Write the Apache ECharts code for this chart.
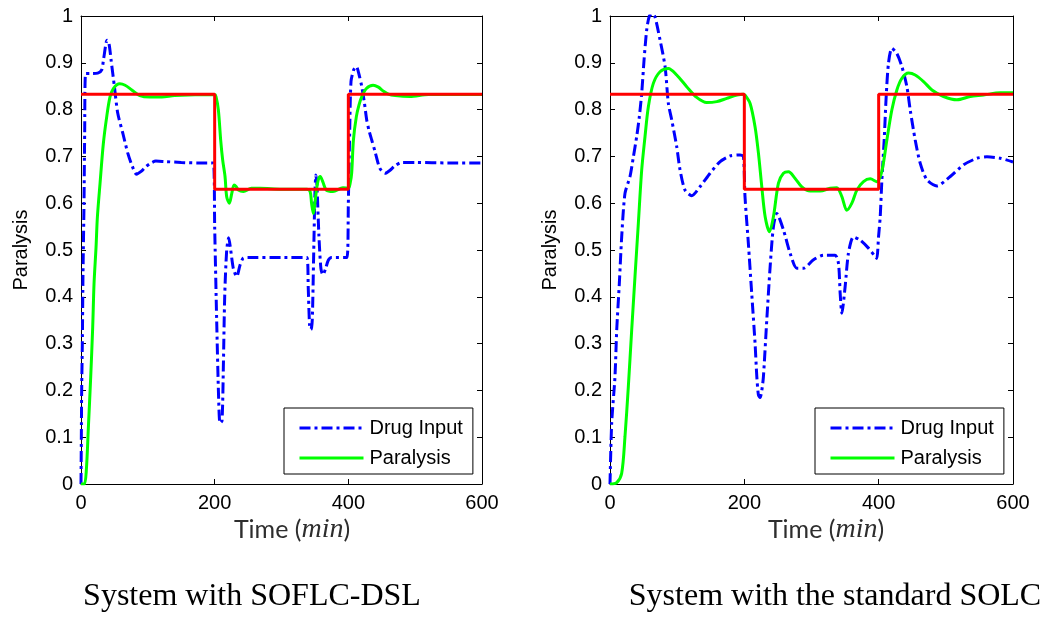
<!DOCTYPE html>
<html>
<head>
<meta charset="utf-8">
<script src="https://cdn.jsdelivr.net/npm/echarts@6/dist/echarts.min.js"></script>
<style>
html,body{margin:0;padding:0;background:#fff;}
#chart{width:1042px;height:617px;}
</style>
</head>
<body>
<div id="chart"></div>
<script>
// ---- data (time in min, value) ----
const xTicks = [0, 200, 400, 600];
const yTicks = [0, 0.1, 0.2, 0.3, 0.4, 0.5, 0.6, 0.7, 0.8, 0.9, 1];
const seriesNames = ['Drug Input', 'Paralysis'];
const captions = ['System with SOFLC-DSL', 'System with the standard SOLC'];

const setpoint = [[0, 0.833], [200, 0.63], [400, 0.833], [600, 0.833]];

const leftDrugInput = [[0,0],[0.5,0.1],[1,0.2],[2,0.3],[3,0.45],[4.5,0.6],[5.5,0.75],[7,0.877],[15,0.877],[25,0.878],[31,0.885],[34,0.91],[39,0.948],[42,0.94],[45,0.906],[50,0.849],[55,0.792],[62.5,0.75],[70,0.707],[77,0.678],[83,0.662],[90,0.668],[97,0.678],[105,0.686],[112,0.69],[125,0.689],[150,0.687],[175,0.686],[198,0.686],[200,0.55],[203,0.35],[206,0.18],[208,0.13],[211,0.135],[213,0.25],[215,0.4],[218,0.5],[221,0.526],[224,0.5],[228,0.46],[233,0.443],[238,0.468],[243,0.483],[250,0.484],[300,0.484],[338,0.484],[340,0.42],[342,0.34],[344,0.33],[346,0.35],[348,0.48],[350,0.62],[351.5,0.66],[353,0.64],[356,0.53],[359,0.46],[362,0.447],[366,0.46],[370,0.478],[375,0.484],[398,0.484],[400,0.6],[402,0.75],[404,0.86],[408,0.885],[412,0.892],[416,0.875],[420,0.85],[424,0.815],[427.5,0.778],[431,0.755],[435,0.735],[440,0.71],[447,0.675],[455,0.664],[462,0.67],[470,0.68],[480,0.687],[500,0.687],[550,0.686],[600,0.686]];

const leftParalysis = [[0,0],[5,0],[8,0.03],[11,0.12],[14.5,0.228],[17.5,0.335],[19.5,0.428],[22.5,0.506],[24.5,0.57],[28.4,0.641],[33.4,0.727],[38.4,0.784],[43.4,0.827],[48.4,0.845],[58,0.855],[66,0.852],[76,0.842],[88,0.83],[103,0.827],[121,0.827],[140,0.83],[200,0.832],[202,0.828],[205.5,0.8],[209,0.735],[212,0.692],[215.5,0.657],[218,0.614],[222,0.6],[225.6,0.621],[229,0.639],[232,0.636],[235.5,0.628],[243,0.625],[255,0.632],[268,0.632],[300,0.63],[338,0.63],[342.8,0.625],[345,0.6],[347.7,0.578],[350,0.6],[352.5,0.63],[355,0.65],[358,0.657],[362,0.645],[367,0.628],[377,0.625],[392,0.633],[400,0.632],[403,0.645],[405,0.664],[407.6,0.735],[412,0.785],[416,0.81],[420,0.827],[427,0.845],[437,0.852],[445,0.848],[452,0.84],[460,0.833],[470,0.83],[492,0.828],[520,0.832],[600,0.832]];

const rightDrugInput = [[0,0],[2.5,0.13],[7.4,0.229],[10,0.329],[13.9,0.429],[17.4,0.528],[22.3,0.621],[29.8,0.657],[34.8,0.699],[39.7,0.742],[43.7,0.785],[47.2,0.835],[50.7,0.906],[54.6,0.97],[58.6,1.0],[63,1.005],[67,0.998],[74.5,0.949],[82,0.892],[86.9,0.813],[91.9,0.778],[99.3,0.721],[104.3,0.671],[111.7,0.628],[121.7,0.616],[134,0.635],[149,0.664],[164,0.689],[178.8,0.701],[193.7,0.703],[198.6,0.7],[201,0.614],[206,0.514],[211,0.407],[216,0.3],[218.6,0.229],[221,0.19],[223.5,0.185],[226,0.2],[228.4,0.229],[233.4,0.35],[238.4,0.464],[243.3,0.55],[248.3,0.578],[258.2,0.543],[268.2,0.493],[278.1,0.461],[288,0.461],[303,0.479],[317.8,0.489],[335.2,0.489],[340.2,0.471],[342.7,0.407],[345.2,0.365],[350.1,0.422],[355,0.493],[362.5,0.528],[372.5,0.521],[384.8,0.504],[394.8,0.486],[397.3,0.482],[399.8,0.528],[402.3,0.571],[404.8,0.65],[408.2,0.735],[411.2,0.828],[414.6,0.899],[419.6,0.931],[427,0.92],[434.6,0.892],[442,0.849],[447,0.799],[454.4,0.735],[461.9,0.685],[471.8,0.65],[486.7,0.637],[506.6,0.657],[526.5,0.682],[546.3,0.696],[561.2,0.699],[581,0.696],[600,0.688]];

const rightParalysis = [[0,0],[10,0.003],[17.4,0.023],[22.3,0.101],[27.3,0.208],[32.3,0.329],[37.2,0.443],[42.2,0.557],[47.2,0.671],[52.1,0.742],[57.1,0.806],[64.5,0.856],[74.5,0.881],[86.9,0.888],[99.3,0.874],[114.2,0.849],[129.1,0.826],[144,0.815],[159,0.817],[173.8,0.824],[188.8,0.831],[198.6,0.833],[201,0.831],[208.6,0.813],[216,0.763],[221,0.707],[226,0.635],[231,0.571],[237.4,0.539],[243.3,0.571],[250.8,0.643],[258.2,0.664],[265.7,0.667],[275.6,0.653],[285.6,0.635],[298,0.626],[312.9,0.626],[327.8,0.632],[337.7,0.633],[345.2,0.614],[352.6,0.585],[360.1,0.6],[367.5,0.628],[377.4,0.646],[387.4,0.652],[397.3,0.646],[404.7,0.668],[412.2,0.735],[419.6,0.799],[427.1,0.842],[434.6,0.867],[444.5,0.878],[454.4,0.874],[466.8,0.86],[479.3,0.842],[496.6,0.828],[516.5,0.821],[536.4,0.828],[556.2,0.831],[581,0.836],[600,0.836]];

// ---- chart ----
const chart = echarts.init(document.getElementById('chart'), null, {renderer: 'canvas'});
const SANS = '"Liberation Sans", Arial, sans-serif';
const grids = [
  {left: 81, top: 16, width: 401, height: 468},
  {left: 610, top: 16, width: 403, height: 468}
];

const xAxes = [], yAxes = [], series = [];
grids.forEach((g, gi) => {
  const common = {
    gridIndex: gi, type: 'value', min: 0, max: 600, interval: 200,
    axisLine: {show: true, onZero: false, lineStyle: {color: '#000', width: 1}},
    axisTick: {show: true, inside: true, length: 5, lineStyle: {color: '#000'}},
    splitLine: {show: false}
  };
  xAxes.push(Object.assign({}, common, {
    position: 'bottom',
    axisLabel: {show: true, color: '#000', fontSize: 20, fontFamily: SANS, margin: 9}
  }));
  xAxes.push(Object.assign({}, common, {position: 'top', axisLabel: {show: false}}));
  const ycommon = {
    gridIndex: gi, type: 'value', min: 0, max: 1, interval: 0.1,
    axisLine: {show: true, onZero: false, lineStyle: {color: '#000', width: 1}},
    axisTick: {show: true, inside: true, length: 5, lineStyle: {color: '#000'}},
    splitLine: {show: false}
  };
  yAxes.push(Object.assign({}, ycommon, {
    position: 'left',
    name: 'Paralysis', nameLocation: 'middle', nameGap: 50,
    nameTextStyle: {color: '#000', fontSize: 20, fontFamily: SANS},
    axisLabel: {show: true, color: '#000', fontSize: 20, fontFamily: SANS, margin: 8,
      formatter: v => String(Math.round(v * 10) / 10)}
  }));
  yAxes.push(Object.assign({}, ycommon, {position: 'right', axisLabel: {show: false}}));
});

const drugData = [leftDrugInput, rightDrugInput];
const parData = [leftParalysis, rightParalysis];
grids.forEach((g, gi) => {
  series.push({
    name: seriesNames[0], type: 'line', xAxisIndex: gi * 2, yAxisIndex: gi * 2,
    data: drugData[gi], showSymbol: false, symbol: 'none', smooth: 0.25,
    lineStyle: {color: '#0000ff', width: 3, type: [11, 4, 3, 4]},
    itemStyle: {color: '#0000ff'}, z: 2, animation: false
  });
  series.push({
    name: seriesNames[1], type: 'line', xAxisIndex: gi * 2, yAxisIndex: gi * 2,
    data: parData[gi], showSymbol: false, symbol: 'none', smooth: 0.3,
    lineStyle: {color: '#00ff00', width: 3, type: 'solid'},
    itemStyle: {color: '#00ff00'}, z: 3, animation: false
  });
  series.push({
    name: 'Setpoint', type: 'line', xAxisIndex: gi * 2, yAxisIndex: gi * 2,
    data: setpoint, step: 'end', showSymbol: false, symbol: 'none',
    lineStyle: {color: '#ff0000', width: 3},
    itemStyle: {color: '#ff0000'}, z: 4, animation: false
  });
});

const legendCommon = {
  orient: 'vertical', data: seriesNames, top: 408,
  itemWidth: 64, itemHeight: 14, itemGap: 10,
  padding: [10, 10, 6, 14],
  borderColor: '#000', borderWidth: 1, borderRadius: 0, backgroundColor: '#fff',
  itemStyle: {opacity: 0},
  lineStyle: {width: 3},
  textStyle: {color: '#000', fontSize: 20, fontFamily: SANS, padding: [0, 0, 0, 1]},
  selectedMode: false
};

const timeRich = {
  a: {fontSize: 25, fontFamily: 'Lato', fill: '#2e2e2e'},
  b: {fontSize: 28, fontFamily: '"Liberation Serif"', fontStyle: 'italic', fill: '#2e2e2e'}
};

const option = {
  backgroundColor: '#fff',
  animation: false,
  grid: grids,
  xAxis: xAxes,
  yAxis: yAxes,
  legend: [
    Object.assign({}, legendCommon, {left: 284}),
    Object.assign({}, legendCommon, {left: 815})
  ],
  series: series,
  graphic: [
    {type: 'text', x: 292, y: 530, style: {
      text: '{a|Time (}{b|min}{a|)}', align: 'center', verticalAlign: 'middle', rich: timeRich}},
    {type: 'text', x: 826, y: 530, style: {
      text: '{a|Time (}{b|min}{a|)}', align: 'center', verticalAlign: 'middle', rich: timeRich}},
    {type: 'text', x: 252, y: 597, style: {text: captions[0], align: 'center', verticalAlign: 'middle',
      fontSize: 32, fontFamily: '"Liberation Serif", "Times New Roman", serif', fill: '#000'}},
    {type: 'text', x: 835, y: 597, style: {text: captions[1], align: 'center', verticalAlign: 'middle',
      fontSize: 32, fontFamily: '"Liberation Serif", "Times New Roman", serif', fill: '#000'}}
  ]
};
chart.setOption(option);
</script>
</body>
</html>
